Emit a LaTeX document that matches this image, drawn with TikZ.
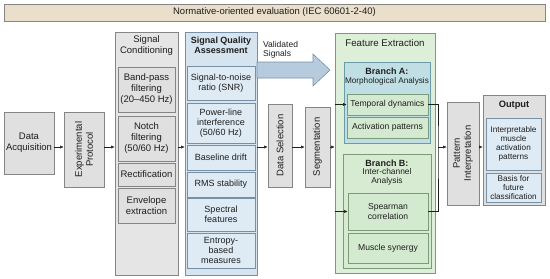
\documentclass[tikz,border=0pt]{standalone}
\usepackage{fontspec}
\setmainfont{Liberation Sans}
\usetikzlibrary{arrows.meta, positioning}
\definecolor{txt}{HTML}{1E1E1E}
\definecolor{boxline}{HTML}{858585}
\definecolor{boxgray}{HTML}{E0E0E0}
\definecolor{titlefill}{HTML}{EADFCA}
\definecolor{blueout}{HTML}{D5E4EF}
\definecolor{bluein}{HTML}{DFEBF4}
\definecolor{blueline}{HTML}{7890A5}
\definecolor{greenout}{HTML}{DDEFD8}
\definecolor{greenin}{HTML}{D4EAD0}
\definecolor{greenline}{HTML}{7A9A7A}
\definecolor{tealfill}{HTML}{C0DFE5}
\definecolor{tealline}{HTML}{6A9CA8}
\definecolor{arrowfill}{HTML}{B6CBDE}

\begin{document}
\begin{tikzpicture}[x=1pt, y=-1pt,
  lbl/.style={inner sep=0pt, align=center, text=txt, font=\fontsize{9.5}{11}\selectfont},
  graybox/.style={lbl, draw=boxline, fill=boxgray, line width=0.6pt},
  bluebox/.style={graybox, draw=blueline, fill=bluein, font=\fontsize{9}{10}\selectfont},
  greenbox/.style={graybox, draw=greenline, fill=greenin, font=\fontsize{8.6}{10}\selectfont},
  outbox/.style={graybox, draw=blueline, fill=bluein, font=\fontsize{8.2}{9}\selectfont},
  arr/.style={draw=txt, line width=0.5pt, -{Latex[length=3.5pt,width=3pt]}},
  link/.style={draw=txt, line width=0.5pt}]
\useasboundingbox (0,0) rectangle (550,279);
\coordinate (flow) at (0,147);
% title bar
\node[graybox, fill=titlefill, minimum width=541, minimum height=17] (norm) at (274.5,12.5) {Normative-oriented evaluation (IEC 60601-2-40)};
% acquisition and protocol
\node[graybox, minimum width=50, minimum height=62] (acq) at (29,143) {Data\\Acquisition};
\node[graybox, rotate=90, minimum width=75, minimum height=40] (proto) at (84,149.5) {Experimental\\Protocol};
% signal conditioning
\node[graybox, fill=boxgray!85!white, minimum width=63, minimum height=243] (cond) at (146.5,153.5) {};
\node[lbl] (condT) at (146.5,45.5) {Signal\\Conditioning};
\node[graybox, minimum width=57, minimum height=45] (band) at (146.5,89.5) {Band-pass\\filtering\\(20--450 Hz)};
\node[graybox, minimum width=57, minimum height=45] (notch) at (146.5,138.5) {Notch\\filtering\\(50/60 Hz)};
\node[graybox, minimum width=57, minimum height=23] (rect) at (146.5,174.5) {Rectification};
\node[graybox, minimum width=57, minimum height=35] (env) at (146.5,205.5) {Envelope\\extraction};
% signal quality assessment
\node[graybox, draw=blueline, fill=blueout, minimum width=72, minimum height=243] (sqa) at (221,153.5) {};
\node[lbl, font=\fontsize{9}{10}\selectfont\bfseries] (sqaT) at (221,45.5) {Signal Quality\\Assessment};
\node[bluebox, minimum width=68, minimum height=34] (snr) at (221,83) {Signal-to-noise\\ratio (SNR)};
\node[bluebox, minimum width=68, minimum height=40] (pli) at (221,123) {Power-line\\interference\\(50/60 Hz)};
\node[bluebox, minimum width=68, minimum height=25] (drift) at (221,157.5) {Baseline drift};
\node[bluebox, minimum width=68, minimum height=25] (rms) at (221,184.5) {RMS stability};
\node[bluebox, minimum width=68, minimum height=33] (spec) at (221,214.5) {Spectral\\features};
\node[bluebox, minimum width=68, minimum height=35] (entr) at (221,250.5) {Entropy-\\based\\measures};
% validated signals
\node[lbl, anchor=west, align=left, font=\fontsize{8.5}{9.3}\selectfont] (valT) at (263,49.5) {Validated\\Signals};
\draw[draw=blueline, fill=arrowfill, line width=0.6pt] (257,62) -- (313,62) -- (313,54) -- (330,70) -- (313,86) -- (313,78) -- (257,78) -- cycle;
% selection and segmentation
\node[graybox, rotate=90, minimum width=83, minimum height=24] (dsel) at (280,145.5) {Data Selection};
\node[graybox, rotate=90, minimum width=80, minimum height=25] (seg) at (317.5,147) {Segmentation};
% feature extraction
\node[graybox, draw=greenline, fill=greenout, minimum width=100, minimum height=240] (fe) at (385,153) {};
\node[lbl, font=\fontsize{9.7}{11}\selectfont] (feT) at (385,43) {Feature Extraction};
\node[graybox, draw=tealline, fill=tealfill, minimum width=86, minimum height=81] (bra) at (387,102.5) {};
\node[lbl, font=\fontsize{9}{10}\selectfont\bfseries] (braT) at (387,71.5) {Branch A:};
\node[lbl, font=\fontsize{8.2}{9}\selectfont] (braS) at (387,81) {Morphological Analysis};
\node[greenbox, minimum width=81, minimum height=21] (temp) at (387.5,104.5) {Temporal dynamics};
\node[greenbox, minimum width=81, minimum height=21] (act) at (387.5,127.5) {Activation patterns};
\node[graybox, draw=greenline, fill=greenin!70!greenout, minimum width=88, minimum height=114] (brb) at (387,211) {};
\node[lbl, font=\fontsize{9}{10}\selectfont\bfseries] (brbT) at (387,163) {Branch B:};
\node[lbl, font=\fontsize{8.4}{9.4}\selectfont] (brbS) at (387,177) {Inter-channel\\Analysis};
\node[greenbox, minimum width=80, minimum height=37] (spear) at (388,211.5) {Spearman\\correlation};
\node[greenbox, minimum width=80, minimum height=30] (syn) at (388,248) {Muscle synergy};
% interpretation and output
\node[graybox, rotate=90, minimum width=103, minimum height=32] (pint) at (463,153.5) {Pattern\\Interpretation};
\node[graybox, minimum width=62, minimum height=110] (out) at (514,150) {};
\node[lbl, font=\fontsize{9.3}{10}\selectfont\bfseries] (outT) at (514,105) {Output};
\node[outbox, minimum width=55, minimum height=52] (interp) at (513.5,144) {Interpretable\\muscle\\activation\\patterns};
\node[outbox, minimum width=55, minimum height=29] (basis) at (513.5,187.5) {Basis for\\future\\classification};
% connectors
\draw[arr] (acq.east |- flow) -- (proto.north |- flow);
\draw[arr] (proto.south |- flow) -- (cond.west |- flow);
\draw[arr] (cond.east |- flow) -- (sqa.west |- flow);
\draw[arr] (sqa.east |- flow) -- (dsel.north |- flow);
\draw[arr] (dsel.south |- flow) -- (seg.north |- flow);
\draw[arr] (seg.south |- flow) -- (fe.west |- flow);
\draw[arr] (fe.west |- temp) -- (temp.west);
\draw[arr] (fe.west |- spear) -- (spear.west);
\coordinate (brk) at (438,147);
\draw[link] (temp.east) -| (brk) |- (spear.east);
\draw[arr] (brk) -- (pint.north |- brk);
\draw[arr] (pint.south |- flow) -- (out.west |- flow);
\end{tikzpicture}
\end{document}
